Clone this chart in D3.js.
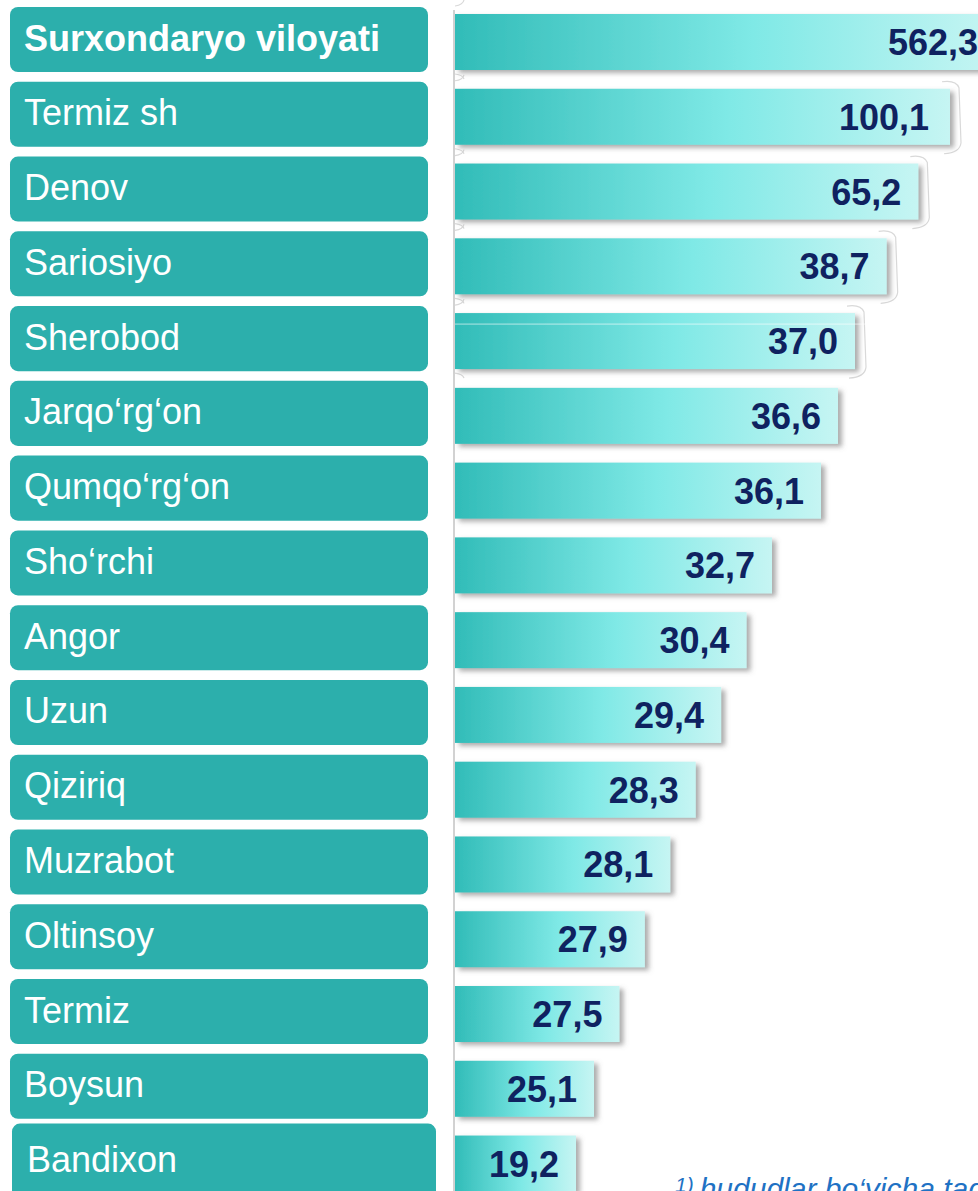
<!DOCTYPE html>
<html>
<head>
<meta charset="utf-8">
<script src="https://cdn.jsdelivr.net/npm/d3@7"></script>
<style>
  html, body { margin: 0; padding: 0; background: #fff; overflow: hidden; }
  svg { display: block; }
</style>
</head>
<body>
<div id="chart"></div>
<script>
// region names, top to bottom
const regions = [
  "Surxondaryo viloyati", "Termiz sh", "Denov", "Sariosiyo", "Sherobod",
  "Jarqo‘rg‘on", "Qumqo‘rg‘on", "Sho‘rchi", "Angor", "Uzun", "Qiziriq",
  "Muzrabot", "Oltinsoy", "Termiz", "Boysun", "Bandixon"
];

// values shown on the bars
const values = [
  562.3, 100.1, 65.2, 38.7, 37.0, 36.6, 36.1, 32.7, 30.4, 29.4, 28.3,
  28.1, 27.9, 27.5, 25.1, 19.2
];

const footnote = "hududlar bo‘yicha taqsimlanmagan";

const W = 978, H = 1191;
const barX = 455;

const svg = d3.select("#chart").append("svg")
  .attr("width", W).attr("height", H);

const defs = svg.append("defs");

// bar gradient, teal to pale cyan
const grad = defs.append("linearGradient").attr("id", "barGrad")
  .attr("x1", "0%").attr("x2", "100%").attr("y1", "0%").attr("y2", "0%");
grad.append("stop").attr("offset", "0%").attr("stop-color", "#31bcb8");
grad.append("stop").attr("offset", "55%").attr("stop-color", "#7fe9e6");
grad.append("stop").attr("offset", "100%").attr("stop-color", "#c6f5f3");

const shadow = defs.append("filter").attr("id", "shadow")
  .attr("x", "-5%").attr("y", "-20%").attr("width", "115%").attr("height", "150%");
shadow.append("feDropShadow")
  .attr("dx", 4).attr("dy", 3).attr("stdDeviation", 2.5)
  .attr("flood-color", "#666").attr("flood-opacity", 0.55);

// rows
const y = d3.scaleBand()
  .domain(regions)
  .range([7, 7 + 74.77 * (regions.length - 0.13)])
  .paddingInner(0.13)
  .paddingOuter(0);

// bar length follows the rank of the value (the source uses a broken, ordinal-like axis)
const sorted = values.slice().sort((a, b) => a - b);
const rank = v => sorted.indexOf(v);
const len = d3.scaleLinear()
  .domain([0, 1, 8, 9, 11, 14, 15])
  .range([121, 139, 317, 366, 400, 495, 540]);

const data = regions.map((name, i) => ({ name, value: values[i], i }));
const last = regions.length - 1;

// label boxes
const labels = svg.append("g");
labels.selectAll("rect").data(data).join("rect")
  .attr("x", d => d.i === last ? 12 : 10)
  .attr("y", d => d.i === last ? y(d.name) - 5 : y(d.name))
  .attr("width", d => d.i === last ? 424 : 418)
  .attr("height", d => d.i === last ? y.bandwidth() + 20 : y.bandwidth())
  .attr("rx", 8).attr("ry", 8)
  .attr("fill", "#2cafac");

labels.selectAll("text").data(data).join("text")
  .attr("x", d => d.i === last ? 27 : 24)
  .attr("y", d => y(d.name) + y.bandwidth() / 2 + 11)
  .attr("fill", "#fff")
  .attr("font-family", "'Liberation Sans', Arial, sans-serif")
  .attr("font-size", 36)
  .attr("font-weight", d => d.i === 0 ? "bold" : "normal")
  .text(d => d.name);

// axis line
svg.append("line")
  .attr("x1", 454).attr("x2", 454)
  .attr("y1", 10).attr("y2", H)
  .attr("stroke", "#d2d2d2").attr("stroke-width", 2);

// faint break marks of the broken axis
const marks = svg.append("g").attr("fill", "none").attr("stroke", "#d9d9d9").attr("stroke-width", 1.2);
data.filter(d => d.i < 5).forEach(d => {
  const top = y(d.name) + 7, bot = top + 56;
  marks.append("path")
    .attr("d", `M455,${top - 8} q8,-1 9,-6 M455,${bot + 4} q8,1 9,5`);
  if (d.i > 0) {
    const ex = barX + len(rank(d.value));
    marks.append("path")
      .attr("d", `M${ex - 8},${top - 7} q14,-2 17,6 L${ex + 11},${bot - 2} q-1,10 -17,11`);
  }
});

// bars
const bars = svg.append("g");
bars.selectAll("rect").data(data).join("rect")
  .attr("x", barX)
  .attr("y", d => y(d.name) + 7)
  .attr("width", d => len(rank(d.value)))
  .attr("height", 56)
  .attr("fill", "url(#barGrad)")
  .attr("filter", "url(#shadow)");

// thin light streak seen on the Sherobod bar
svg.append("line")
  .attr("x1", barX).attr("x2", barX + len(rank(values[4])) + 20)
  .attr("y1", y(regions[4]) + 18).attr("y2", y(regions[4]) + 18)
  .attr("stroke", "#ffffff").attr("stroke-opacity", 0.6).attr("stroke-width", 1);

const fmt = v => d3.format(".1f")(v).replace(".", ",");

bars.selectAll("text").data(data).join("text")
  .attr("x", d => barX + len(rank(d.value)) - (d.i === 1 ? 21 : 17))
  .attr("y", d => y(d.name) + 7 + 28 + 13)
  .attr("text-anchor", "end")
  .attr("fill", "#0f2260")
  .attr("font-family", "'Liberation Sans', Arial, sans-serif")
  .attr("font-size", 36)
  .attr("font-weight", "bold")
  .text(d => fmt(d.value));

// footnote (cut by the page edge in the source)
const fn = svg.append("text")
  .attr("x", 675).attr("y", 1199)
  .attr("fill", "#1f72c4")
  .attr("font-family", "'Liberation Sans', Arial, sans-serif")
  .attr("font-style", "italic");
fn.append("tspan").attr("font-size", 21).attr("dy", -7).text("1)");
fn.append("tspan").attr("font-size", 30).attr("dy", 7).attr("dx", 6).text(footnote);
</script>
</body>
</html>
